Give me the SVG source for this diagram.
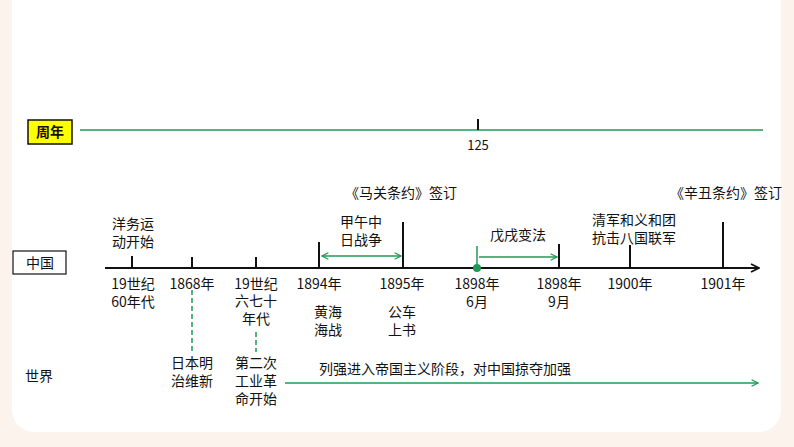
<svg xmlns="http://www.w3.org/2000/svg" width="794" height="447" viewBox="0 0 794 447">
<style>
text{font-family:"Noto Sans CJK SC","Liberation Sans",sans-serif;font-size:14px;fill:#111}
.m{text-anchor:middle}
.k{stroke:#111;stroke-width:2}
.g{stroke:#1f9a55;stroke-width:1.5;fill:none}
</style>
<defs>
<marker id="ga" viewBox="0 0 10 10" refX="9" refY="5" markerWidth="8" markerHeight="8" orient="auto-start-reverse" markerUnits="userSpaceOnUse"><path d="M1,1 L9,5 L1,9" fill="none" stroke="#1f9a55" stroke-width="1.5"/></marker>
<marker id="ka" viewBox="0 0 10 10" refX="9" refY="5" markerWidth="10" markerHeight="10" orient="auto" markerUnits="userSpaceOnUse"><path d="M1,1 L9,5 L1,9" fill="none" stroke="#111" stroke-width="1.8"/></marker>
</defs>
<rect width="794" height="447" fill="#fcf3ec"/>
<rect x="12" y="-20" width="769" height="452" rx="22" fill="#fff"/>
<g id="connectors">
<line x1="80" y1="130" x2="763" y2="130" class="g"/>
<line x1="478" y1="119" x2="478" y2="130" class="k" stroke-width="1.5"/>
<line x1="105" y1="268" x2="759" y2="268" class="k" marker-end="url(#ka)"/>
<line x1="132" y1="256" x2="132" y2="268" class="k" stroke-width="1.5"/>
<line x1="192" y1="257" x2="192" y2="268" class="k" stroke-width="1.5"/>
<line x1="256" y1="257" x2="256" y2="268" class="k" stroke-width="1.5"/>
<line x1="319" y1="242" x2="319" y2="268" class="k"/>
<line x1="403" y1="222" x2="403" y2="268" class="k"/>
<line x1="559" y1="244" x2="559" y2="268" class="k" stroke-width="1.5"/>
<line x1="630" y1="245" x2="630" y2="268" class="k" stroke-width="1.5"/>
<line x1="723" y1="222" x2="723" y2="268" class="k" stroke-width="1.5"/>
<line x1="322" y1="256" x2="401" y2="256" class="g" marker-start="url(#ga)" marker-end="url(#ga)"/>
<line x1="477" y1="246" x2="477" y2="268" class="g"/>
<circle cx="477" cy="268" r="4" fill="#1f9a55"/>
<line x1="479" y1="257" x2="557" y2="257" class="g" marker-end="url(#ga)"/>
<line x1="192" y1="290" x2="192" y2="352" class="g" stroke-dasharray="5,3"/>
<line x1="256" y1="332" x2="256" y2="352" class="g" stroke-dasharray="5,3"/>
<line x1="285" y1="383" x2="758" y2="383" class="g" marker-end="url(#ga)"/>
</g>
<g id="zhounian"><rect x="28" y="120" width="44" height="24" fill="#ffff00" stroke="#111" stroke-width="1.5"/><text x="50" y="137" class="m" font-weight="bold">周年</text></g>
<g id="n125"><text x="478" y="150" class="m" style="font-size:13px">125</text></g>
<g id="zhongguo"><rect x="13" y="251" width="53" height="23" fill="#fff" stroke="#111" stroke-width="1.2"/><text x="40" y="268" class="m">中国</text></g>
<g id="shijie"><text x="25" y="381">世界</text></g>
<g id="yangwu"><text x="133" y="229" class="m">洋务运</text><text x="133" y="247" class="m">动开始</text><text x="133" y="289" class="m">19世纪</text><text x="133" y="307" class="m">60年代</text></g>
<g id="y1868"><text x="192" y="289" class="m">1868年</text><text x="192" y="368" class="m">日本明</text><text x="192" y="386" class="m">治维新</text></g>
<g id="y1967"><text x="256" y="289" class="m">19世纪</text><text x="256" y="306" class="m">六七十</text><text x="256" y="324" class="m">年代</text><text x="256" y="368" class="m">第二次</text><text x="256" y="386" class="m">工业革</text><text x="256" y="404" class="m">命开始</text></g>
<g id="y1894"><text x="319" y="289" class="m">1894年</text><text x="328" y="317" class="m">黄海</text><text x="328" y="335" class="m">海战</text></g>
<g id="jiawu"><text x="361" y="227" class="m">甲午中</text><text x="361" y="245" class="m">日战争</text></g>
<g id="maguan"><text x="401" y="198" class="m">《马关条约》签订</text></g>
<g id="y1895"><text x="402" y="289" class="m">1895年</text><text x="402" y="317" class="m">公车</text><text x="402" y="335" class="m">上书</text></g>
<g id="wuxu"><text x="518" y="240" class="m">戊戌变法</text></g>
<g id="y18986"><text x="477" y="289" class="m">1898年</text><text x="477" y="307" class="m">6月</text></g>
<g id="y18989"><text x="559" y="289" class="m">1898年</text><text x="559" y="307" class="m">9月</text></g>
<g id="y1900"><text x="634" y="225" class="m">清军和义和团</text><text x="634" y="243" class="m">抗击八国联军</text><text x="630" y="289" class="m">1900年</text></g>
<g id="y1901"><text x="726" y="198" class="m">《辛丑条约》签订</text><text x="723" y="289" class="m">1901年</text></g>
<g id="liejiang"><text x="445" y="374" class="m">列强进入帝国主义阶段，对中国掠夺加强</text></g>
</svg>
